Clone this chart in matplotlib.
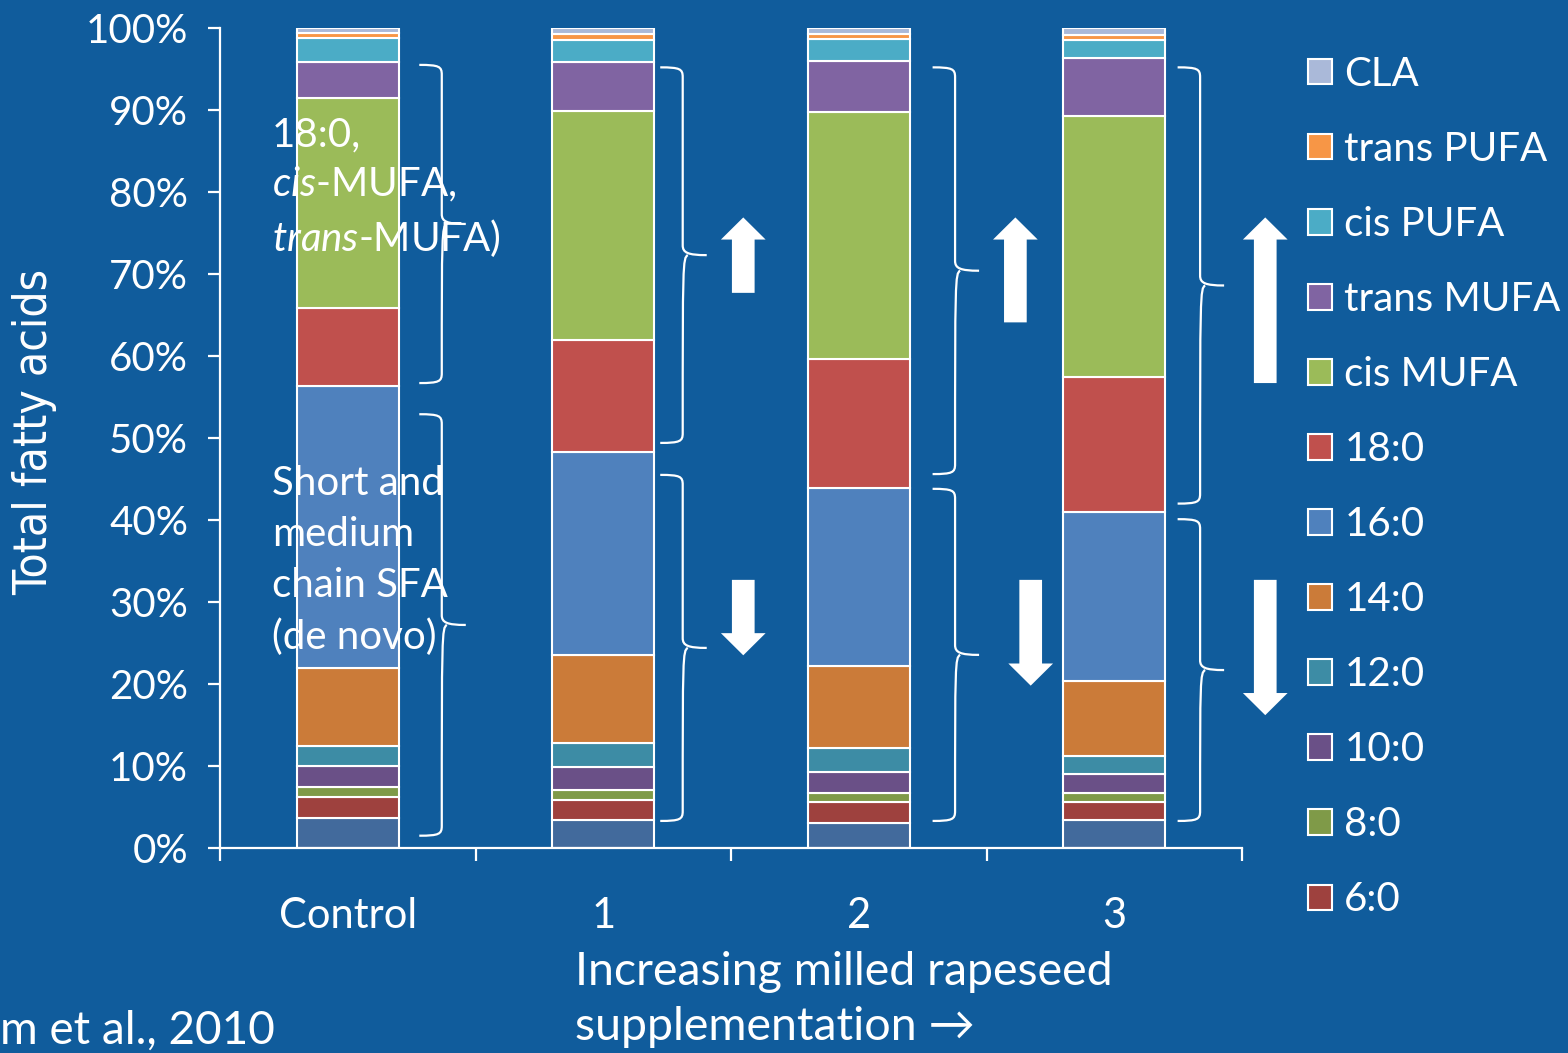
import matplotlib.pyplot as plt
import numpy as np
from matplotlib import font_manager
from matplotlib.path import Path
from matplotlib.patches import PathPatch

plt.rcParams['font.family'] = ['Lato', 'DejaVu Sans']
plt.rcParams['mathtext.fontset'] = 'custom'
plt.rcParams['mathtext.rm'] = 'Lato'
plt.rcParams['mathtext.it'] = 'Lato:italic'

BG = '#105c9c'

groups = ['Control', '1', '2', '3']

# fatty acid shares (% of total), stacked bottom to top
fa_names = ['4:0', '6:0', '8:0', '10:0', '12:0', '14:0', '16:0', '18:0',
            'cis MUFA', 'trans MUFA', 'cis PUFA', 'trans PUFA', 'CLA']
fa_colors = ['#426a9c', '#9e413e', '#7f9a48', '#6a5087', '#3d8ca5', '#cb7b39',
             '#4f81bd', '#c0504d', '#9bbb59', '#8064a2', '#4bacc6', '#f79646', '#aab9d9']
fa_4_0 = [3.7, 3.4, 3.05, 3.4]
fa_6_0 = [2.5, 2.45, 2.5, 2.15]
fa_8_0 = [1.2, 1.25, 1.15, 1.15]
fa_10_0 = [2.6, 2.8, 2.6, 2.3]
fa_12_0 = [2.5, 2.85, 2.85, 2.2]
fa_14_0 = [9.4, 10.75, 10.05, 9.2]
fa_16_0 = [34.5, 24.8, 21.7, 20.6]
fa_18_0 = [9.4, 13.7, 15.7, 16.4]
cis_mufa = [25.7, 27.9, 30.1, 31.9]
trans_mufa = [4.4, 6.0, 6.3, 7.0]
cis_pufa = [2.9, 2.6, 2.6, 2.2]
trans_pufa = [0.6, 0.8, 0.7, 0.6]
cla = [0.6, 0.7, 0.7, 0.9]
fa_values = [fa_4_0, fa_6_0, fa_8_0, fa_10_0, fa_12_0, fa_14_0, fa_16_0, fa_18_0,
             cis_mufa, trans_mufa, cis_pufa, trans_pufa, cla]

# bracket spans (bottom, top) and x of the bracket spine
upper_brace = [(56.7, 95.5), (49.4, 95.2), (45.6, 95.2), (42.0, 95.2)]
lower_brace = [(1.5, 52.9), (3.3, 45.5), (3.3, 43.8), (3.3, 40.1)]
brace_x = [0.368, 1.311, 2.377, 3.336]

# change arrows: x, start, end
up_arrows = [(1.548, 67.7, 76.9), (2.613, 64.1, 76.9), (3.591, 56.7, 76.9)]
down_arrows = [(1.548, 32.7, 23.5), (2.673, 32.7, 19.8), (3.591, 32.7, 16.2)]


def draw_brace(ax, x, y0, y1, curl=0.088, tip=0.094):
    ym = (y0 + y1) / 2
    r = 1.2
    verts = [(x - curl, y1), (x - 0.01, y1), (x, y1 - 0.2), (x, y1 - r),
             (x, ym + r), (x, ym + 0.3), (x + 0.02, ym), (x + tip, ym),
             (x + 0.02, ym), (x, ym - 0.3), (x, ym - r),
             (x, y0 + r), (x, y0 + 0.2), (x - 0.01, y0), (x - curl, y0)]
    codes = [Path.MOVETO, Path.CURVE4, Path.CURVE4, Path.CURVE4,
             Path.LINETO, Path.CURVE4, Path.CURVE4, Path.CURVE4,
             Path.MOVETO, Path.CURVE4, Path.CURVE4,
             Path.LINETO, Path.CURVE4, Path.CURVE4, Path.CURVE4]
    ax.add_patch(PathPatch(Path(verts, codes), fill=False, edgecolor='white',
                           lw=1.6, clip_on=False))


def draw_arrow(ax, x, y_from, y_to, shaft=0.0444, head=0.0875, head_len=2.7):
    d = np.sign(y_to - y_from)
    yb = y_to - d * head_len
    xs = [x - shaft, x + shaft, x + shaft, x + head, x, x - head, x - shaft]
    ys = [y_from, y_from, yb, yb, y_to, yb, yb]
    ax.fill(xs, ys, color='white', lw=0, clip_on=False, zorder=3)


# narrow face for the y label if one is around
installed = {f.name: f for f in font_manager.fontManager.ttflist}
ylab_font = {'family': 'Lato', 'size': 29}
if 'Liberation Sans Narrow' in installed:
    ylab_font = {'family': 'Liberation Sans Narrow', 'size': 36}
else:
    condensed = [f for f in font_manager.fontManager.ttflist
                 if f.name == 'DejaVu Sans' and 'ondensed' in f.fname
                 and f.style == 'normal' and f.weight in (400, 'normal')]
    if condensed:
        ylab_font = {'fname': condensed[0].fname, 'size': 33}

fig = plt.figure(figsize=(15.68, 10.53), dpi=100, facecolor=BG)
ax = fig.add_axes([220 / 1568, 205 / 1053, 1022 / 1568, 820 / 1053])
ax.set_facecolor(BG)

x = np.arange(len(groups))
bottom = np.zeros(len(groups))
bars = []
for name, vals, col in zip(fa_names, fa_values, fa_colors):
    b = ax.bar(x, vals, 0.4, bottom=bottom, color=col, edgecolor='white',
               linewidth=1.5, label=name, zorder=2)
    bars.append(b)
    bottom += np.array(vals)

ax.set_xlim(-0.5, 3.5)
ax.set_ylim(0, 100)
ax.set_yticks(range(0, 101, 10))
ax.set_yticklabels([f'{v}%' for v in range(0, 101, 10)])
ax.set_xticks(x)
ax.set_xticklabels(groups)
ax.set_xticks(np.arange(-0.5, 3.6, 1), minor=True)

for s in ['top', 'right']:
    ax.spines[s].set_visible(False)
for s in ['left', 'bottom']:
    ax.spines[s].set_color('white')
    ax.spines[s].set_linewidth(1.6)

ax.tick_params(axis='y', colors='white', labelsize=29, length=9, width=1.6, pad=14)
ax.tick_params(axis='x', which='major', colors='white', labelsize=30, length=0, pad=35)
ax.tick_params(axis='x', which='minor', colors='white', length=9, width=1.6)

for (lo, hi), bx in zip(upper_brace, brace_x):
    draw_brace(ax, bx, lo, hi)
for (lo, hi), bx in zip(lower_brace, brace_x):
    draw_brace(ax, bx, lo, hi)
for ax_x, y0, y1 in up_arrows:
    draw_arrow(ax, ax_x, y0, y1)
for ax_x, y0, y1 in down_arrows:
    draw_arrow(ax, ax_x, y0, y1)

ax.text(-0.296, 80.5, '18:0,\n$\\mathit{cis}$-MUFA,\n$\\mathit{trans}$-MUFA)',
        color='white', fontsize=29, va='center', ha='left', zorder=4, linespacing=1.37)
ax.text(-0.296, 35.1, 'Short and\nmedium\nchain SFA\n(de novo)',
        color='white', fontsize=29, va='center', ha='left', zorder=4, linespacing=1.47)

handles = [b.patches[0] for b in bars[1:]][::-1]
labels = fa_names[1:][::-1]
leg = ax.legend(handles, labels, loc='upper left', bbox_to_anchor=(1308 / 1568, 0.947),
                bbox_transform=fig.transFigure, frameon=False, fontsize=29,
                handlelength=0.6, handleheight=0.6, handletextpad=0.3,
                labelspacing=0.945, borderpad=0, borderaxespad=0)
for t in leg.get_texts():
    t.set_color('white')

fig.text(35 / 1568, 0.59, 'Total fatty acids', rotation=90, color='white',
         fontproperties=font_manager.FontProperties(**ylab_font),
         ha='center', va='center')
fig.text(575 / 1568, 0.0505, 'Increasing milled rapeseed\nsupplementation \u2192',
         color='white', fontsize=33.5, ha='left', va='center', linespacing=1.39)
fig.text(0.0, 0.021, 'm et al., 2010', color='white', fontsize=33,
         ha='left', va='center')

fig.savefig('out.png', dpi=100, facecolor=BG)
